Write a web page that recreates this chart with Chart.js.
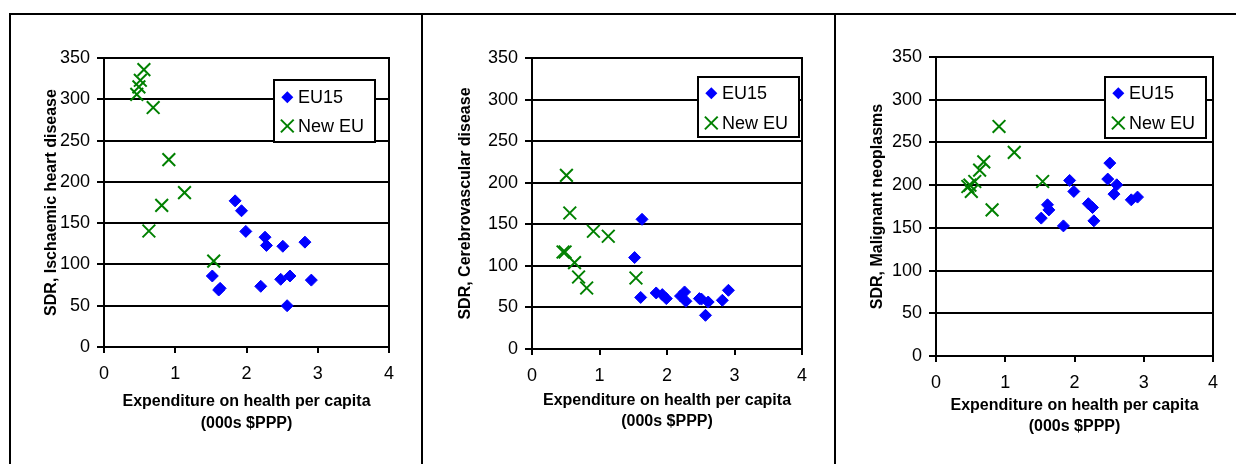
<!DOCTYPE html>
<html>
<head>
<meta charset="utf-8">
<script src="https://cdn.jsdelivr.net/npm/chart.js@4.4.1/dist/chart.umd.min.js"></script>
<style>
  html, body { margin: 0; padding: 0; background: #fff; }
  #page { position: relative; width: 1236px; height: 464px; overflow: hidden; }
  #page canvas { position: absolute; left: 0; top: 0; }
  .rule { position: absolute; background: #000; }
</style>
</head>
<body>
<div id="page">
  <div class="rule" style="left:9px;top:13px;width:1227px;height:2px"></div>
  <div class="rule" style="left:9px;top:13px;width:2px;height:451px"></div>
  <div class="rule" style="left:421px;top:13px;width:2px;height:451px"></div>
  <div class="rule" style="left:834px;top:13px;width:2px;height:451px"></div>
  <canvas id="c-ihd" width="1236" height="464"></canvas>
  <canvas id="c-cvd" width="1236" height="464"></canvas>
  <canvas id="c-cancer" width="1236" height="464"></canvas>
</div>
<script>
// Dados
const seriesNames = ['EU15', 'New EU'];
const xTicks = [0, 1, 2, 3, 4];
const yTicks = [0, 50, 100, 150, 200, 250, 300, 350];
const xTitle = ['Expenditure on health per capita', '(000s $PPP)'];

// gasto em saúde per capita (000s $PPP), um valor por país
const eu15Spend  = [1.52, 1.61, 1.63, 1.84, 1.93, 1.99, 2.20, 2.26, 2.28, 2.48, 2.51, 2.57, 2.61, 2.82, 2.91];
const newEuSpend = [0.46, 0.49, 0.51, 0.56, 0.63, 0.69, 0.81, 0.91, 1.13, 1.54];

// SDR por causa
const ihdEu15    = [86, 69, 71, 177, 165, 140, 73.5, 133, 123, 82, 122, 50, 86, 127, 81];
const ihdNewEu   = [306, 315, 323, 336, 140.5, 290, 171.6, 227, 187, 104];
const cvdEu15    = [110, 62, 156, 67.4, 65.4, 60.6, 63.7, 68.6, 57.4, 60.6, 60, 40.5, 56.5, 58.6, 70.6];
const cvdNewEu   = [116.7, 116.7, 208.9, 163.6, 103.9, 86.6, 73.4, 141.6, 135.6, 85.4];
const cancerEu15  = [161.4, 177, 171, 152.3, 205.5, 192.6, 178.3, 173.8, 158.2, 207.1, 225.8, 189.5, 200.4, 182.8, 186];
const cancerNewEu = [198.4, 200, 192.6, 204.3, 217.5, 227.3, 171, 268.7, 238.3, 204.3];

const FONT = "'Liberation Sans', Arial, Helvetica, sans-serif";
const BLUE = '#0000FF';
const GREEN = '#008000';
const Y_AXIS_W = 100;
const X_AXIS_H = 100;

// Geometria de cada painel (coordenadas da página)
const panels = [
  { id: 'c-ihd', yTitle: 'SDR, Ischaemic heart disease', eu15: ihdEu15, newEu: ihdNewEu,
    plot: { l: 104, r: 389, t: 58, b: 347 }, yTitleX: 52, xTitleY: 423.3,
    legend: { x: 274, y: 80, w: 101, h: 62, m1: 17.3, m2: 46 } },
  { id: 'c-cvd', yTitle: 'SDR, Cerebrovascular disease', eu15: cvdEu15, newEu: cvdNewEu,
    plot: { l: 532, r: 802, t: 58, b: 349 }, yTitleX: 466, xTitleY: 421.7,
    legend: { x: 698, y: 77, w: 101, h: 60, m1: 16.3, m2: 46 } },
  { id: 'c-cancer', yTitle: 'SDR, Malignant neoplasms', eu15: cancerEu15, newEu: cancerNewEu,
    plot: { l: 936, r: 1213, t: 57, b: 356 }, yTitleX: 878, xTitleY: 426.7,
    legend: { x: 1105, y: 77, w: 101, h: 61, m1: 16.3, m2: 46 } }
];

// Moldura da área do gráfico + legenda dentro dela
const framePlugin = {
  id: 'frame',
  beforeDatasetsDraw(chart) {
    const { ctx, chartArea: a } = chart;
    ctx.save();
    ctx.strokeStyle = '#000';
    ctx.lineWidth = 2;
    ctx.strokeRect(a.left, a.top, a.right - a.left, a.bottom - a.top);
    ctx.restore();
  },
  afterDatasetsDraw(chart, args, opts) {
    const lg = opts.legend;
    if (!lg) return;
    const ctx = chart.ctx;
    ctx.save();
    ctx.fillStyle = '#fff';
    ctx.fillRect(lg.x, lg.y, lg.w, lg.h);
    ctx.strokeStyle = '#000';
    ctx.lineWidth = 2;
    ctx.strokeRect(lg.x, lg.y, lg.w, lg.h);

    const mx = lg.x + 13.3;
    // losango EU15
    const y1 = lg.y + lg.m1;
    ctx.fillStyle = BLUE;
    ctx.beginPath();
    ctx.moveTo(mx - 6, y1); ctx.lineTo(mx, y1 - 6); ctx.lineTo(mx + 6, y1); ctx.lineTo(mx, y1 + 6);
    ctx.closePath();
    ctx.fill();
    // X New EU
    const y2 = lg.y + lg.m2;
    const d = 6.4;
    ctx.strokeStyle = GREEN;
    ctx.lineWidth = 2;
    ctx.beginPath();
    ctx.moveTo(mx - d, y2 - d); ctx.lineTo(mx + d, y2 + d);
    ctx.moveTo(mx + d, y2 - d); ctx.lineTo(mx - d, y2 + d);
    ctx.stroke();

    ctx.fillStyle = '#000';
    ctx.font = `18px ${FONT}`;
    ctx.textBaseline = 'middle';
    ctx.textAlign = 'left';
    ctx.fillText(seriesNames[0], lg.x + 24, y1 + 1);
    ctx.fillText(seriesNames[1], lg.x + 24, y2 + 1);
    ctx.restore();
  }
};

function toPoints(xs, ys) {
  return xs.map((x, i) => ({ x, y: ys[i] }));
}

function buildPanel(p) {
  const titleLh = 16 * 1.2;
  const xTitleLh = 16 * 1.35;
  const padLeft = p.plot.l - Y_AXIS_W;
  const padBottom = 464 - p.plot.b - X_AXIS_H;

  new Chart(document.getElementById(p.id), {
    type: 'scatter',
    data: {
      datasets: [
        { label: seriesNames[0], data: toPoints(eu15Spend, p.eu15), order: 2,
          pointStyle: 'rectRot', pointRadius: 6, backgroundColor: BLUE, borderColor: BLUE, borderWidth: 1 },
        { label: seriesNames[1], data: toPoints(newEuSpend, p.newEu), order: 1,
          pointStyle: 'crossRot', pointRadius: 9, backgroundColor: GREEN, borderColor: GREEN, borderWidth: 2 }
      ]
    },
    options: {
      responsive: false,
      animation: false,
      events: [],
      layout: { padding: { left: padLeft, right: 1236 - p.plot.r, top: p.plot.t, bottom: padBottom } },
      plugins: {
        legend: { display: false },
        tooltip: { enabled: false },
        frame: { legend: p.legend }
      },
      scales: {
        x: {
          type: 'linear', min: 0, max: 4,
          afterBuildTicks: s => { s.ticks = xTicks.map(v => ({ value: v })); },
          afterFit: s => { s.height = X_AXIS_H; },
          grid: { drawOnChartArea: false, drawTicks: true, tickLength: 6, color: '#000', lineWidth: 2 },
          border: { display: false },
          ticks: { color: '#000', font: { family: FONT, size: 18 }, padding: 10, maxRotation: 0 },
          title: {
            display: true, text: xTitle, color: '#000',
            font: { family: FONT, size: 16, weight: 'bold', lineHeight: 1.35 },
            padding: { top: 0, bottom: (p.plot.b + X_AXIS_H) - p.xTitleY - xTitleLh / 2 }
          }
        },
        y: {
          type: 'linear', min: 0, max: 350,
          afterBuildTicks: s => { s.ticks = yTicks.map(v => ({ value: v })); },
          afterFit: s => { s.width = Y_AXIS_W; },
          grid: { color: '#000', lineWidth: 2, tickLength: 7, drawTicks: true },
          border: { display: false },
          ticks: { color: '#000', font: { family: FONT, size: 18 }, padding: 7 },
          title: {
            display: true, text: p.yTitle, color: '#000',
            font: { family: FONT, size: 16, weight: 'bold', lineHeight: 1.2 },
            padding: { top: p.yTitleX - padLeft - titleLh / 2, bottom: 0 }
          }
        }
      }
    },
    plugins: [framePlugin]
  });
}

panels.forEach(buildPanel);
</script>
</body>
</html>
